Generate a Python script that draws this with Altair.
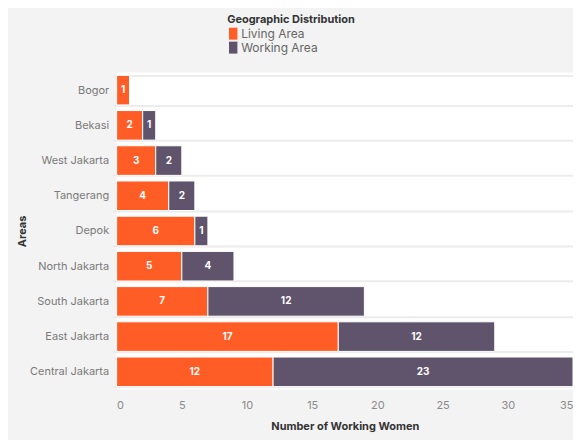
import altair as alt
import pandas as pd

areas = ["Bogor", "Bekasi", "West Jakarta", "Tangerang", "Depok",
         "North Jakarta", "South Jakarta", "East Jakarta", "Central Jakarta"]
living = [1, 2, 3, 4, 6, 5, 7, 17, 12]
working = [0, 1, 2, 2, 1, 4, 12, 12, 23]
series = ["Living Area", "Working Area"]
colors = ["#FF5C26", "#5F546B"]

rows = []
for a, l, w in zip(areas, living, working):
    rows.append({"area": a, "type": series[0], "value": l, "ord": 0})
    rows.append({"area": a, "type": series[1], "value": w, "ord": 1})
df = pd.DataFrame(rows)

base = alt.Chart(df).transform_stack(
    stack="value", groupby=["area"], as_=["x0", "x1"],
    sort=[alt.SortField("ord", order="ascending")]
).transform_calculate(mid="(datum.x0 + datum.x1) / 2")

yenc = alt.Y("area:N", sort=areas, title="Areas",
             scale=alt.Scale(paddingInner=0.16, paddingOuter=0.08),
             axis=alt.Axis(tickBand="extent", grid=True, gridColor="#ececec", gridWidth=2,
                           domain=False, ticks=True, tickColor="#e3e3e3", tickSize=4,
                           labelColor="#7a7a7a", labelFontSize=11, labelPadding=4,
                           titleColor="#333333", titleFontSize=11, titleFontWeight="bold",
                           titlePadding=2))

bars = base.mark_bar(stroke="#ffffff", strokeWidth=1).encode(
    y=yenc,
    x=alt.X("x0:Q", title="Number of Working Women",
            scale=alt.Scale(domain=[0, 35], nice=False),
            axis=alt.Axis(values=[0, 5, 10, 15, 20, 25, 30, 35], grid=False, domain=False,
                          ticks=False, labelColor="#8a8a8a", labelFontSize=11, labelPadding=10,
                          titleColor="#333333", titleFontSize=11, titleFontWeight="bold",
                          titlePadding=10)),
    x2="x1:Q",
    color=alt.Color("type:N", scale=alt.Scale(domain=series, range=colors),
                    legend=alt.Legend(title="Geographic Distribution", orient="none",
                                      legendX=111, legendY=-59, direction="vertical",
                                      symbolType="M-0.7,-1 L0.7,-1 L0.7,1 L-0.7,1 Z",
                                      symbolSize=144, symbolStrokeWidth=0,
                                      titleFontSize=11, titleFontWeight="bold",
                                      titleColor="#333333", labelFontSize=12,
                                      labelColor="#666666", rowPadding=2,
                                      titlePadding=3, symbolOpacity=1, labelOffset=2)),
)

texts = base.transform_filter("datum.value > 0").mark_text(
    color="#ffffff", fontWeight="bold", fontSize=10
).encode(
    y=alt.Y("area:N", sort=areas),
    x=alt.X("mid:Q"),
    text=alt.Text("value:Q"),
)

chart = (bars + texts).properties(
    width=458, height=318,
    background="#f3f3f3",
    autosize=alt.AutoSizeParams(type="none"),
    padding={"left": 109, "top": 64, "right": 0, "bottom": 50},
).configure(font="Inter").configure_view(fill="#ffffff", stroke=None)

chart.save("out.html", embed_options={"renderer": "svg", "actions": False})
